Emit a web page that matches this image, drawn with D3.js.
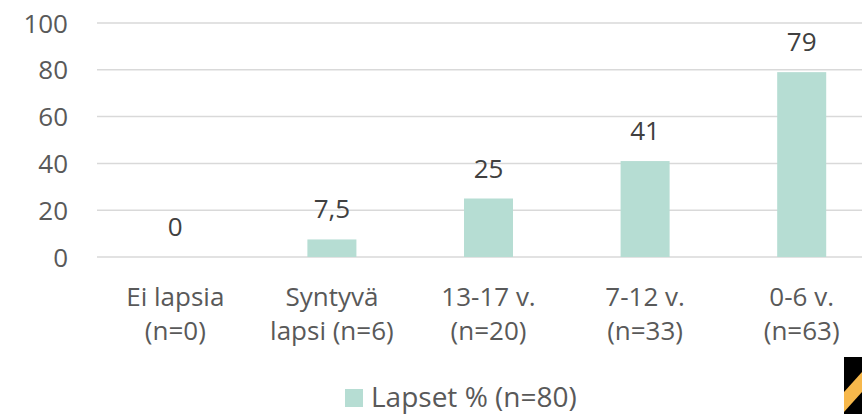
<!DOCTYPE html>
<html><head><meta charset="utf-8">
<script src="https://cdn.jsdelivr.net/npm/d3@7"></script>
<style>body{margin:0;background:#fff;}svg{display:block;font-family:"Open Sans",sans-serif;}</style>
</head><body>
<svg id="c" width="862" height="414"></svg>
<script>
const categories = [["Ei lapsia","(n=0)"],["Syntyvä","lapsi (n=6)"],["13-17 v.","(n=20)"],["7-12 v.","(n=33)"],["0-6 v.","(n=63)"]];
const values = [0, 7.5, 25, 41, 79];
const valueLabels = ["0","7,5","25","41","79"];
const yTicks = [0,20,40,60,80,100];
const seriesName = "Lapset % (n=80)";

const FS = "26px";
const svg = d3.select("#c");
const x = d3.scaleBand().domain(d3.range(categories.length)).range([97, 880]).paddingInner(0.687).paddingOuter(0.3435);
const y = d3.scaleLinear().domain([0,100]).range([257, 23]);
const txt = "#595959";

svg.append("g").selectAll("line").data(yTicks).join("line")
  .attr("x1", 97).attr("x2", 862).attr("y1", d=>y(d)).attr("y2", d=>y(d))
  .attr("stroke", "#d9d9d9").attr("stroke-width", 1.5);

svg.append("g").selectAll("text").data(yTicks).join("text")
  .attr("x", 68).attr("y", d=>y(d)+9.5).attr("text-anchor","end")
  .attr("fill", txt).style("font-size",FS).text(d=>d);

svg.append("g").selectAll("rect").data(values).join("rect")
  .attr("x", (d,i)=>x(i)).attr("width", x.bandwidth())
  .attr("y", d=>y(d)).attr("height", d=>y(0)-y(d)).attr("fill", "#b6ddd3");

svg.append("g").selectAll("text").data(values).join("text")
  .attr("x", (d,i)=>x(i)+x.bandwidth()/2).attr("y", d=>y(d)-21)
  .attr("text-anchor","middle").attr("fill", "#404040").style("font-size",FS)
  .text((d,i)=>valueLabels[i]);

const cg = svg.append("g").selectAll("text").data(categories).join("text")
  .attr("text-anchor","middle").attr("fill", txt).style("font-size",FS);
cg.each(function(d,i){
  const t = d3.select(this);
  d.forEach((line,j)=>{
    t.append("tspan").attr("x", x(i)+x.bandwidth()/2).attr("y", 306 + j*34).text(line);
  });
});

svg.append("rect").attr("x", 345).attr("y", 389).attr("width", 18).attr("height", 18).attr("fill", "#b6ddd3");
svg.append("text").attr("x", 371).attr("y", 407).attr("fill", txt).style("font-size","28px").text(seriesName);

// corner decoration
const deco = svg.append("g");
deco.append("rect").attr("x", 844).attr("y", 357).attr("width", 18).attr("height", 57).attr("fill", "#000");
deco.append("path").attr("d", "M844,392 L862,372 L862,392 L844,412 Z").attr("fill", "#f7b84b");
</script>
</body></html>
